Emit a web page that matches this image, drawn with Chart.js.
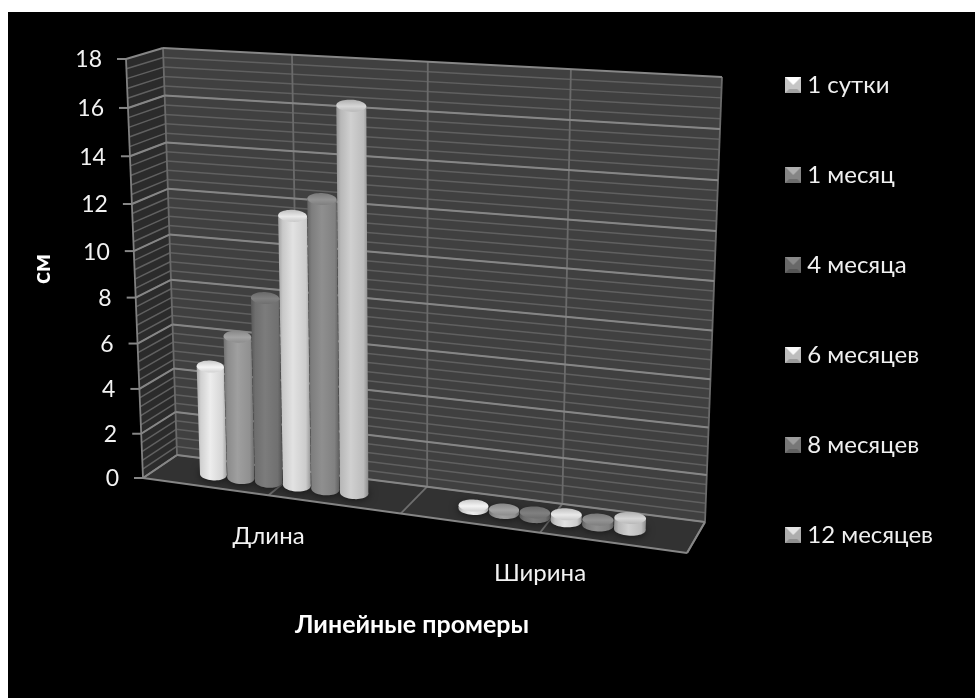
<!DOCTYPE html>
<html lang="ru">
<head>
<meta charset="utf-8">
<style>
  html, body { margin: 0; background: #fff; }
  canvas { display: block; filter: blur(0.5px); }
</style>
<script src="https://cdn.jsdelivr.net/npm/chart.js@4"></script>
</head>
<body>
<canvas id="chart" width="975" height="698"></canvas>
<script>
const categories = ['Длина', 'Ширина'];
const seriesNames = ['1 сутки', '1 месяц', '4 месяца', '6 месяцев', '8 месяцев', '12 месяцев'];
const sutki1 = [4.85, 0.15];
const mesyac1 = [6.3, 0.15];
const mesyac4 = [8.1, 0.2];
const mesyac6 = [11.7, 0.3];
const mesyac8 = [12.5, 0.25];
const mesyac12 = [16.4, 0.5];
const seriesValues = [sutki1, mesyac1, mesyac4, mesyac6, mesyac8, mesyac12];
const seriesGreys = [232, 156, 122, 222, 140, 204];

const axisTitleY = 'см';
const axisTitleX = 'Линейные промеры';
const fontName = 'Lato, "Open Sans", sans-serif';

// the 3D box as it sits on the page: d=0 front, d=1 back wall
const box = {
	frontBottomLeft: [143, 478], frontTopLeft: [126, 59],
	frontBottomRight: [687, 553], frontTopRight: [707, 95],
	backBottomLeft: [177, 455], backTopLeft: [163, 48],
	backBottomRight: [705, 522], backTopRight: [722, 77],
};

const mix = (a, b, k) => [a[0] + (b[0] - a[0]) * k, a[1] + (b[1] - a[1]) * k];

function project(t, v, d) {
	// foreshortening along the width and the height
	const p = 0.9 * t / (1 - 0.1 * t);
	const q = 0.945 * v / (1 - 0.055 * v);
	const frontB = mix(box.frontBottomLeft, box.frontBottomRight, p);
	const frontT = mix(box.frontTopLeft, box.frontTopRight, p);
	const backB = mix(box.backBottomLeft, box.backBottomRight, p);
	const backT = mix(box.backTopLeft, box.backTopRight, p);
	return mix(mix(frontB, frontT, q), mix(backB, backT, q), d);
}

function poly(ctx, pts) {
	ctx.beginPath();
	pts.forEach((p, i) => (i ? ctx.lineTo(p[0], p[1]) : ctx.moveTo(p[0], p[1])));
	ctx.closePath();
}

function seg(ctx, a, b, color, width) {
	ctx.strokeStyle = color;
	ctx.lineWidth = width;
	ctx.beginPath();
	ctx.moveTo(a[0], a[1]);
	ctx.lineTo(b[0], b[1]);
	ctx.stroke();
}

const grey = (g) => {
	const c = Math.round(Math.min(255, g));
	return `rgb(${c},${c},${c})`;
};

function cylinderRing(t, halfW, v) {
	const c = project(t, v, 0.47);
	const rx = (project(t + halfW, v, 0.47)[0] - project(t - halfW, v, 0.47)[0]) / 2;
	const ry = 6;
	const pts = [];
	for (let i = 0; i < 48; i++) {
		const a = i / 48 * Math.PI * 2;
		const ex = Math.cos(a) * rx;
		pts.push([c[0] + ex, c[1] + Math.sin(a) * ry + ex * 0.04]);
	}
	return pts;
}

function barShape(bar, area) {
	return {
		t: (bar.x - area.left) / area.width,
		halfW: bar.width / 2 / area.width,
		v0: (area.bottom - bar.base) / area.height,
		v1: (area.bottom - bar.y) / area.height,
	};
}

function drawCylinder(ctx, s, g) {
	const bottom = cylinderRing(s.t, s.halfW, s.v0);
	const top = cylinderRing(s.t, s.halfW, s.v1);
	const xs = (pts) => pts.map((p) => p[0]);
	const minX = Math.min(...xs(bottom), ...xs(top));
	const maxX = Math.max(...xs(bottom), ...xs(top));
	const grad = ctx.createLinearGradient(minX, 0, maxX, 0);
	grad.addColorStop(0, grey(g * 0.72));
	grad.addColorStop(0.14, grey(g * 0.9));
	grad.addColorStop(0.45, grey(g * 1.02));
	grad.addColorStop(0.85, grey(g * 0.92));
	grad.addColorStop(1, grey(g * 0.68));
	ctx.fillStyle = grad;
	poly(ctx, bottom);
	ctx.fill();
	const edge = (pts, side) => pts.reduce((m, p) => (side * p[0] > side * m[0] ? p : m));
	poly(ctx, [edge(bottom, -1), edge(top, -1), edge(top, 1), edge(bottom, 1)]);
	ctx.fill();
	const ys = top.map((p) => p[1]);
	const lid = ctx.createLinearGradient(0, Math.min(...ys), 0, Math.max(...ys));
	lid.addColorStop(0, grey(g * 0.86));
	lid.addColorStop(0.55, grey(g * 1.05));
	lid.addColorStop(1, grey(g * 0.9));
	ctx.fillStyle = lid;
	poly(ctx, top);
	ctx.fill();
}

const frame3d = {
	id: 'frame3d',
	beforeDraw(chart) {
		const ctx = chart.ctx;
		ctx.save();
		ctx.fillStyle = '#fff';
		ctx.fillRect(0, 0, chart.width, chart.height);
		ctx.fillStyle = '#000';
		ctx.fillRect(8, 12, chart.width - 8, chart.height - 12);
		ctx.restore();
	},
	beforeDatasetsDraw(chart) {
		const ctx = chart.ctx;
		const area = chart.chartArea;
		const yScale = chart.scales.y;
		const xScale = chart.scales.x;
		const vOf = (value) => (area.bottom - yScale.getPixelForValue(value)) / area.height;
		ctx.save();
		ctx.lineCap = 'butt';

		// walls and floor
		ctx.fillStyle = '#404040';
		poly(ctx, [project(0, 0, 1), project(0, 1, 1), project(1, 1, 1), project(1, 0, 1)]);
		ctx.fill();
		ctx.fillStyle = '#2b2b2b';
		poly(ctx, [project(0, 0, 0), project(0, 1, 0), project(0, 1, 1), project(0, 0, 1)]);
		ctx.fill();
		ctx.fillStyle = '#323232';
		poly(ctx, [project(0, 0, 0), project(0, 0, 1), project(1, 0, 1), project(1, 0, 0)]);
		ctx.fill();

		// minor lines every 0.4
		for (let val = 0; val < yScale.max; val += 0.4) {
			const v = vOf(val);
			seg(ctx, project(0, v, 0), project(0, v, 1), '#606060', 1.5);
			seg(ctx, project(0, v, 1), project(1, v, 1), '#606060', 1.5);
		}
		// upright lines and floor lines between and through the groups
		[0, 0.25, 0.5, 0.75, 1].forEach((t) => {
			seg(ctx, project(t, 0, 1), project(t, 1, 1), '#6a6a6a', 1.8);
			seg(ctx, project(t, 0, 0), project(t, 0, 1), '#6e6e6e', 1.8);
		});
		seg(ctx, project(0, 0, 0), project(0, 1, 0), '#808080', 1.8);

		// major lines and value labels
		ctx.fillStyle = '#f2f2f2';
		ctx.font = '23px ' + fontName;
		ctx.textAlign = 'right';
		ctx.textBaseline = 'middle';
		yScale.ticks.forEach((tick) => {
			const v = vOf(tick.value);
			const front = project(0, v, 0);
			seg(ctx, project(0, v, 0), project(0, v, 1), '#868686', 2);
			seg(ctx, project(0, v, 1), project(1, v, 1), '#868686', 2);
			seg(ctx, [front[0] - 9, front[1]], front, '#868686', 2);
			ctx.fillText(tick.label, front[0] - 24, front[1] + 1);
		});
		seg(ctx, project(0, 0, 0), project(1, 0, 0), '#868686', 2);
		seg(ctx, project(1, 0, 0), project(1, 0, 1), '#868686', 2);

		// category labels under the front edge
		ctx.textAlign = 'center';
		ctx.font = '24px ' + fontName;
		categories.forEach((name, i) => {
			const t = (xScale.getPixelForTick(i) - area.left) / area.width;
			const p = project(t, 0, 0);
			ctx.fillText(name, p[0], p[1] + 41);
		});

		// axis titles
		ctx.font = 'bold 25px ' + fontName;
		ctx.fillStyle = '#ffffff';
		ctx.fillText(axisTitleX, 412, 625);
		ctx.translate(42, 269);
		ctx.rotate(-Math.PI / 2);
		ctx.fillText(axisTitleY, 0, 0);
		ctx.restore();

		// soft dark halo on the floor round each foot
		ctx.save();
		ctx.shadowColor = 'rgba(0,0,0,0.7)';
		ctx.shadowBlur = 10;
		ctx.fillStyle = '#2a2a2a';
		chart.getSortedVisibleDatasetMetas().forEach((meta) => {
			meta.data.forEach((bar) => {
				const s = barShape(bar, area);
				poly(ctx, cylinderRing(s.t, s.halfW, s.v0));
				ctx.fill();
			});
		});
		ctx.restore();
	},
	beforeDatasetDraw(chart, args) {
		const ctx = chart.ctx;
		const g = seriesGreys[args.index];
		ctx.save();
		args.meta.data.forEach((bar) => drawCylinder(ctx, barShape(bar, chart.chartArea), g));
		ctx.restore();
		return false;
	},
};

function legendIcon(g) {
	const c = document.createElement('canvas');
	c.width = 16;
	c.height = 16;
	const x = c.getContext('2d');
	x.fillStyle = grey(g * 0.85);
	x.fillRect(0, 0, 16, 16);
	x.fillStyle = grey(g * 1.12);
	poly(x, [[0, 0], [16, 0], [8, 8]]);
	x.fill();
	x.fillStyle = grey(g * 0.7);
	poly(x, [[0, 16], [16, 16], [12, 12], [4, 12]]);
	x.fill();
	return c;
}

const legendIcons = seriesGreys.map(legendIcon);

new Chart(document.getElementById('chart'), {
	type: 'bar',
	data: {
		labels: categories,
		datasets: seriesNames.map((name, i) => ({
			label: name,
			data: seriesValues[i],
			backgroundColor: grey(seriesGreys[i]),
		})),
	},
	plugins: [frame3d],
	options: {
		responsive: false,
		animation: false,
		events: [],
		layout: { padding: { top: 0, right: 32, bottom: 78, left: 0 } },
		categoryPercentage: 0.665,
		barPercentage: 0.98,
		scales: {
			x: { display: false },
			y: { display: false, min: 0, max: 18, ticks: { stepSize: 2 } },
		},
		plugins: {
			tooltip: { enabled: false },
			legend: {
				position: 'right',
				labels: {
					color: '#f0f0f0',
					font: { family: fontName, size: 24 },
					usePointStyle: true,
					pointStyleWidth: 4,
					padding: 66,
					generateLabels(chart) {
						return seriesNames.map((name, i) => ({
							text: name,
							fontColor: '#f0f0f0',
							pointStyle: legendIcons[i],
							datasetIndex: i,
						}));
					},
				},
			},
		},
	},
});
</script>
</body>
</html>
